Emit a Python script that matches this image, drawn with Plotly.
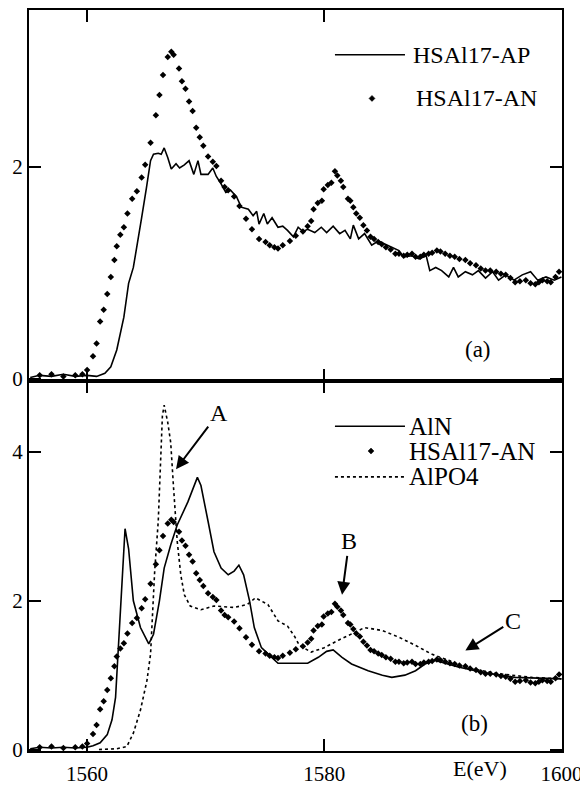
import plotly.graph_objects as go

# ---------------- data ----------------
# Panel (a): HSAl17-AP (solid line)
ap_e = [1555.2, 1556, 1557, 1558, 1559, 1560, 1560.8, 1561.5, 1562.0, 1562.5, 1563.1, 1563.5,
        1563.9, 1564.2, 1564.6, 1565.0, 1565.35, 1565.6, 1566.0, 1566.25, 1566.5, 1566.8, 1567.1,
        1567.5, 1567.8, 1568.2, 1568.6, 1569.0, 1569.35, 1569.6, 1570.2, 1570.6, 1570.9, 1571.3,
        1571.7, 1572.1, 1572.6, 1573.0, 1573.6, 1574.0, 1574.3, 1574.5, 1574.9, 1575.2, 1575.6,
        1576.1, 1576.5, 1576.9, 1577.4, 1577.8, 1578.2, 1578.6, 1579.2, 1579.75, 1580.2, 1580.75,
        1581.3, 1581.75, 1582.2, 1582.45, 1582.9, 1583.4, 1584.0, 1584.55, 1585.1, 1585.7, 1586.3,
        1586.7, 1587.4, 1588.0, 1588.6, 1588.9, 1589.4, 1589.9, 1590.5, 1590.9, 1591.3, 1591.9,
        1592.5, 1593.0, 1593.6, 1594.2, 1594.7, 1595.3, 1596.0, 1596.7, 1597.4, 1598.0, 1598.7,
        1599.4, 1600.0]
ap_v = [0.01, 0.03, 0.02, 0.04, 0.02, 0.03, 0.02, 0.05, 0.11, 0.27, 0.58, 0.90,
        1.05, 1.27, 1.52, 1.80, 2.06, 2.12, 2.13, 2.12, 2.18, 2.09, 1.98,
        2.03, 1.99, 2.02, 2.06, 1.93, 2.06, 1.93, 1.93, 1.99, 1.91, 1.84,
        1.76, 1.78, 1.72, 1.62, 1.60, 1.54, 1.58, 1.46, 1.56, 1.46, 1.52,
        1.43, 1.44, 1.40, 1.34, 1.43, 1.39, 1.41, 1.38, 1.43, 1.38, 1.44,
        1.37, 1.40, 1.32, 1.45, 1.32, 1.37, 1.26, 1.30, 1.27, 1.24, 1.21,
        1.15, 1.16, 1.13, 1.16, 1.02, 1.05, 1.02, 0.96, 1.05, 0.96, 1.01,
        0.98, 1.02, 0.95, 1.01, 0.93, 0.98, 0.93, 0.98, 1.01, 0.93, 0.96,
        0.93, 0.96]

# HSAl17-AN (dots) - shown in both panels
an_e = [1556.0, 1557.0, 1558.0, 1559.0, 1559.6, 1560.0, 1560.5, 1560.8, 1561.1, 1561.4, 1561.7,
        1562.0, 1562.3, 1562.5, 1562.8, 1563.1, 1563.4, 1563.8, 1564.2, 1564.6, 1564.9, 1565.35,
        1565.8, 1566.1, 1566.4, 1566.8, 1567.1, 1567.3, 1567.75, 1568.0, 1568.3, 1568.6, 1568.9,
        1569.2, 1569.5, 1569.8, 1570.2, 1570.6, 1570.9, 1571.3, 1571.6, 1571.9, 1572.4, 1572.85,
        1573.4, 1573.9, 1574.5, 1575.05, 1575.4, 1575.8, 1576.1, 1576.5, 1577.1, 1577.6, 1578.2,
        1578.6, 1578.9, 1579.1, 1579.45, 1579.8, 1579.95, 1580.3, 1580.6, 1580.9, 1581.1, 1581.4,
        1581.6, 1582.0, 1582.2, 1582.45, 1582.7, 1583.0, 1583.3, 1583.6, 1583.9, 1584.2, 1584.55,
        1584.85, 1585.2, 1585.6, 1586.0, 1586.3, 1586.7, 1587.0, 1587.4, 1587.7, 1588.1, 1588.4,
        1588.8, 1589.1, 1589.5, 1589.8, 1590.2, 1590.6, 1591.0, 1591.4, 1591.9, 1592.3, 1592.8,
        1593.2, 1593.6, 1594.0, 1594.5, 1594.9, 1595.3, 1595.7, 1596.1, 1596.5, 1597.0, 1597.4,
        1597.8, 1598.1, 1598.4, 1598.8, 1599.1, 1599.5, 1599.8]
an_v = [0.03, 0.04, 0.02, 0.03, 0.04, 0.08, 0.21, 0.33, 0.54, 0.65, 0.80,
        0.96, 1.12, 1.25, 1.36, 1.43, 1.56, 1.70, 1.77, 1.90, 2.02, 2.23,
        2.49, 2.68, 2.87, 3.04, 3.09, 3.06, 2.93, 2.81, 2.74, 2.62, 2.53,
        2.37, 2.28, 2.20, 2.10, 2.05, 2.01, 1.87, 1.81, 1.78, 1.72, 1.63,
        1.51, 1.41, 1.32, 1.29, 1.26, 1.24, 1.23, 1.26, 1.30, 1.35, 1.39,
        1.44, 1.49, 1.60, 1.66, 1.68, 1.79, 1.83, 1.85, 1.96, 1.92, 1.87,
        1.81, 1.70, 1.68, 1.62, 1.56, 1.52, 1.45, 1.40, 1.34, 1.32, 1.29,
        1.27, 1.24, 1.22, 1.18, 1.18, 1.16, 1.17, 1.18, 1.15, 1.15, 1.17,
        1.18, 1.19, 1.21, 1.20, 1.18, 1.16, 1.15, 1.13, 1.12, 1.09, 1.07,
        1.04, 1.02, 1.02, 1.01, 0.99, 0.98, 0.95, 0.91, 0.92, 0.93, 0.90,
        0.89, 0.91, 0.93, 0.92, 0.91, 0.96, 1.01]

# Panel (b): AlN (solid line)
aln_e = [1555.2, 1556, 1557, 1558, 1559, 1560, 1560.5, 1561.1, 1561.7, 1562.1, 1562.4, 1562.7,
         1563.0, 1563.2, 1563.5, 1563.9, 1564.5, 1565.2, 1565.6, 1566.1, 1566.5, 1567.05, 1567.6,
         1568.5, 1569.3, 1569.6, 1570.2, 1570.7, 1571.3, 1571.9, 1572.4, 1572.8, 1573.2, 1573.7,
         1574.1, 1574.7, 1575.3, 1576.1, 1577.0, 1578.6, 1579.5, 1580.2, 1580.75, 1581.5, 1582.3,
         1583.7, 1584.9, 1585.7, 1586.8, 1587.7, 1588.5, 1589.3, 1591.3, 1593.3, 1596.1, 1600.0]
aln_v = [0.01, 0.03, 0.02, 0.03, 0.02, 0.03, 0.05, 0.09, 0.20, 0.40, 0.70, 1.50,
         2.40, 2.97, 2.70, 2.00, 1.64, 1.42, 1.55, 2.00, 2.44, 2.75, 3.02,
         3.33, 3.66, 3.55, 3.07, 2.66, 2.44, 2.35, 2.40, 2.48, 2.35, 2.00,
         1.64, 1.37, 1.28, 1.16, 1.16, 1.16, 1.24, 1.32, 1.34, 1.24, 1.15,
         1.06, 1.00, 0.97, 1.00, 1.06, 1.15, 1.20, 1.11, 1.04, 0.97, 0.95]

# Panel (b): AlPO4 (dotted line)
alpo4_e = [1561.0, 1562.5, 1563.35, 1563.9, 1564.5, 1565.05, 1565.35, 1565.5, 1565.7, 1566.0,
           1566.2, 1566.35, 1566.5, 1566.8, 1567.05, 1567.2, 1567.3, 1567.6, 1567.9, 1568.2,
           1568.7, 1569.6, 1570.7, 1572.4, 1573.5, 1574.2, 1575.25, 1576.1, 1576.9, 1577.5,
           1577.9, 1578.9, 1580.0, 1581.2, 1582.3, 1583.4, 1584.9, 1586.3, 1587.7, 1589.1,
           1590.5, 1591.9, 1594.7, 1597.5, 1600.0]
alpo4_v = [0.00, 0.01, 0.04, 0.22, 0.53, 0.93, 1.28, 1.73, 2.40, 3.07,
           3.95, 4.49, 4.63, 4.40, 4.13, 3.82, 3.50, 2.80, 2.35, 2.08,
           1.93, 1.88, 1.93, 1.91, 1.95, 2.04, 1.95, 1.73, 1.66, 1.52,
           1.40, 1.31, 1.37, 1.47, 1.55, 1.64, 1.60, 1.51, 1.40, 1.28,
           1.20, 1.10, 1.02, 0.97, 0.95]

x_ticks = [1560, 1580, 1600]
ya_ticks = [0, 2]
yb_ticks = [0, 2, 4]

# ---------------- figure ----------------
FONT = "Liberation Serif"
BLACK = "black"
fig = go.Figure()

fig.add_trace(go.Scatter(x=ap_e, y=ap_v, mode="lines", name="HSAl17-AP",
                         line=dict(color=BLACK, width=1.6), showlegend=False,
                         xaxis="x", yaxis="y"))
fig.add_trace(go.Scatter(x=an_e, y=an_v, mode="markers", name="HSAl17-AN",
                         marker=dict(color=BLACK, symbol="diamond", size=5), showlegend=False,
                         xaxis="x", yaxis="y"))
fig.add_trace(go.Scatter(x=aln_e, y=aln_v, mode="lines", name="AlN",
                         line=dict(color=BLACK, width=1.6), showlegend=False,
                         xaxis="x2", yaxis="y2"))
fig.add_trace(go.Scatter(x=an_e, y=an_v, mode="markers", name="HSAl17-AN",
                         marker=dict(color=BLACK, symbol="diamond", size=5), showlegend=False,
                         xaxis="x2", yaxis="y2"))
fig.add_trace(go.Scatter(x=alpo4_e, y=alpo4_v, mode="lines", name="AlPO4",
                         line=dict(color=BLACK, width=1.6, dash="3px,3px"), showlegend=False,
                         xaxis="x2", yaxis="y2"))

axis_common = dict(showline=True, linecolor=BLACK, linewidth=2, mirror="ticks",
                   ticks="inside", ticklen=12, tickwidth=1.5, tickcolor=BLACK,
                   showgrid=False, zeroline=False,
                   tickfont=dict(family=FONT, size=21, color=BLACK))

XR = [1555.1, 1600.05]
SPLIT = 0.4987
fig.update_layout(
    width=580, height=778,
    margin=dict(l=21, r=26, t=0, b=32),
    paper_bgcolor="white", plot_bgcolor="white",
    font=dict(family=FONT, size=21, color=BLACK),
    showlegend=False,
    xaxis=dict(domain=[0, 1], anchor="y", range=XR, tickvals=x_ticks,
               showticklabels=False, **axis_common),
    yaxis=dict(domain=[SPLIT, 1], anchor="x", range=[-0.028, 3.484], tickvals=ya_ticks,
               **axis_common),
    xaxis2=dict(domain=[0, 1], anchor="y2", range=XR, tickvals=x_ticks,
                ticklabelstandoff=3, **axis_common),
    yaxis2=dict(domain=[0, SPLIT], anchor="x2", range=[-0.02, 4.95], tickvals=yb_ticks,
                **axis_common),
)

# ---------------- legends (drawn as keys + text in paper space) ----------------
def key_line(x0, x1, y, dash=None):
    fig.add_shape(type="line", xref="paper", yref="paper", x0=x0, x1=x1, y0=y, y1=y,
                  line=dict(color=BLACK, width=1.6, dash=dash))

def key_diamond(x, y, r=3):
    fig.add_shape(type="path", xref="paper", yref="paper", xsizemode="pixel",
                  ysizemode="pixel", xanchor=x, yanchor=y,
                  path=f"M0,{r} L{r},0 L0,{-r} L{-r},0 Z",
                  fillcolor=BLACK, line=dict(color=BLACK, width=0.5))

def key_text(x, y, text, size):
    fig.add_annotation(x=x, y=y, xref="paper", yref="paper", xanchor="left",
                       yanchor="middle", text=text, showarrow=False,
                       font=dict(family=FONT, size=size, color=BLACK))

# panel (a)
key_line(0.574, 0.7054, 0.9397)
key_text(0.716, 0.9397, "HSAl17-AP", 24)
key_diamond(0.6435, 0.8807)
key_text(0.722, 0.8807, "HSAl17-AN", 24)
# panel (b)
key_line(0.574, 0.7054, 0.4383)
key_text(0.709, 0.4383, "AlN", 25)
key_diamond(0.6417, 0.4048)
key_text(0.709, 0.4048, "HSAl17-AN", 25)
key_line(0.574, 0.7054, 0.3700, dash="3px,3px")
key_text(0.709, 0.3700, "AlPO4", 25)

# ---------------- arrows and labels ----------------
arrow = dict(showarrow=True, arrowhead=2, arrowsize=1.3, arrowwidth=2, arrowcolor=BLACK,
             font=dict(family=FONT, size=24, color=BLACK))
fig.add_annotation(x=1567.5, y=3.77, ax=1571.1, ay=4.53, axref="x2", ayref="y2",
                   xref="x2", yref="y2", text="A", **arrow)
fig.add_annotation(x=1581.5, y=2.08, ax=1582.1, ay=2.8, axref="x2", ayref="y2",
                   xref="x2", yref="y2", text="B", **arrow)
fig.add_annotation(x=1591.9, y=1.33, ax=1595.9, ay=1.73, axref="x2", ayref="y2",
                   xref="x2", yref="y2", text="C", **arrow)

lbl = dict(showarrow=False, font=dict(family=FONT, size=23, color=BLACK))
fig.add_annotation(x=1593.0, y=0.27, xref="x", yref="y", text="(a)", **lbl)
fig.add_annotation(x=1592.7, y=0.35, xref="x2", yref="y2", text="(b)", **lbl)
fig.add_annotation(x=1593.15, y=-0.024, xref="x2", yref="paper", yanchor="middle",
                   text="E(eV)", showarrow=False,
                   font=dict(family=FONT, size=22, color=BLACK))

fig.write_html("out.html")
